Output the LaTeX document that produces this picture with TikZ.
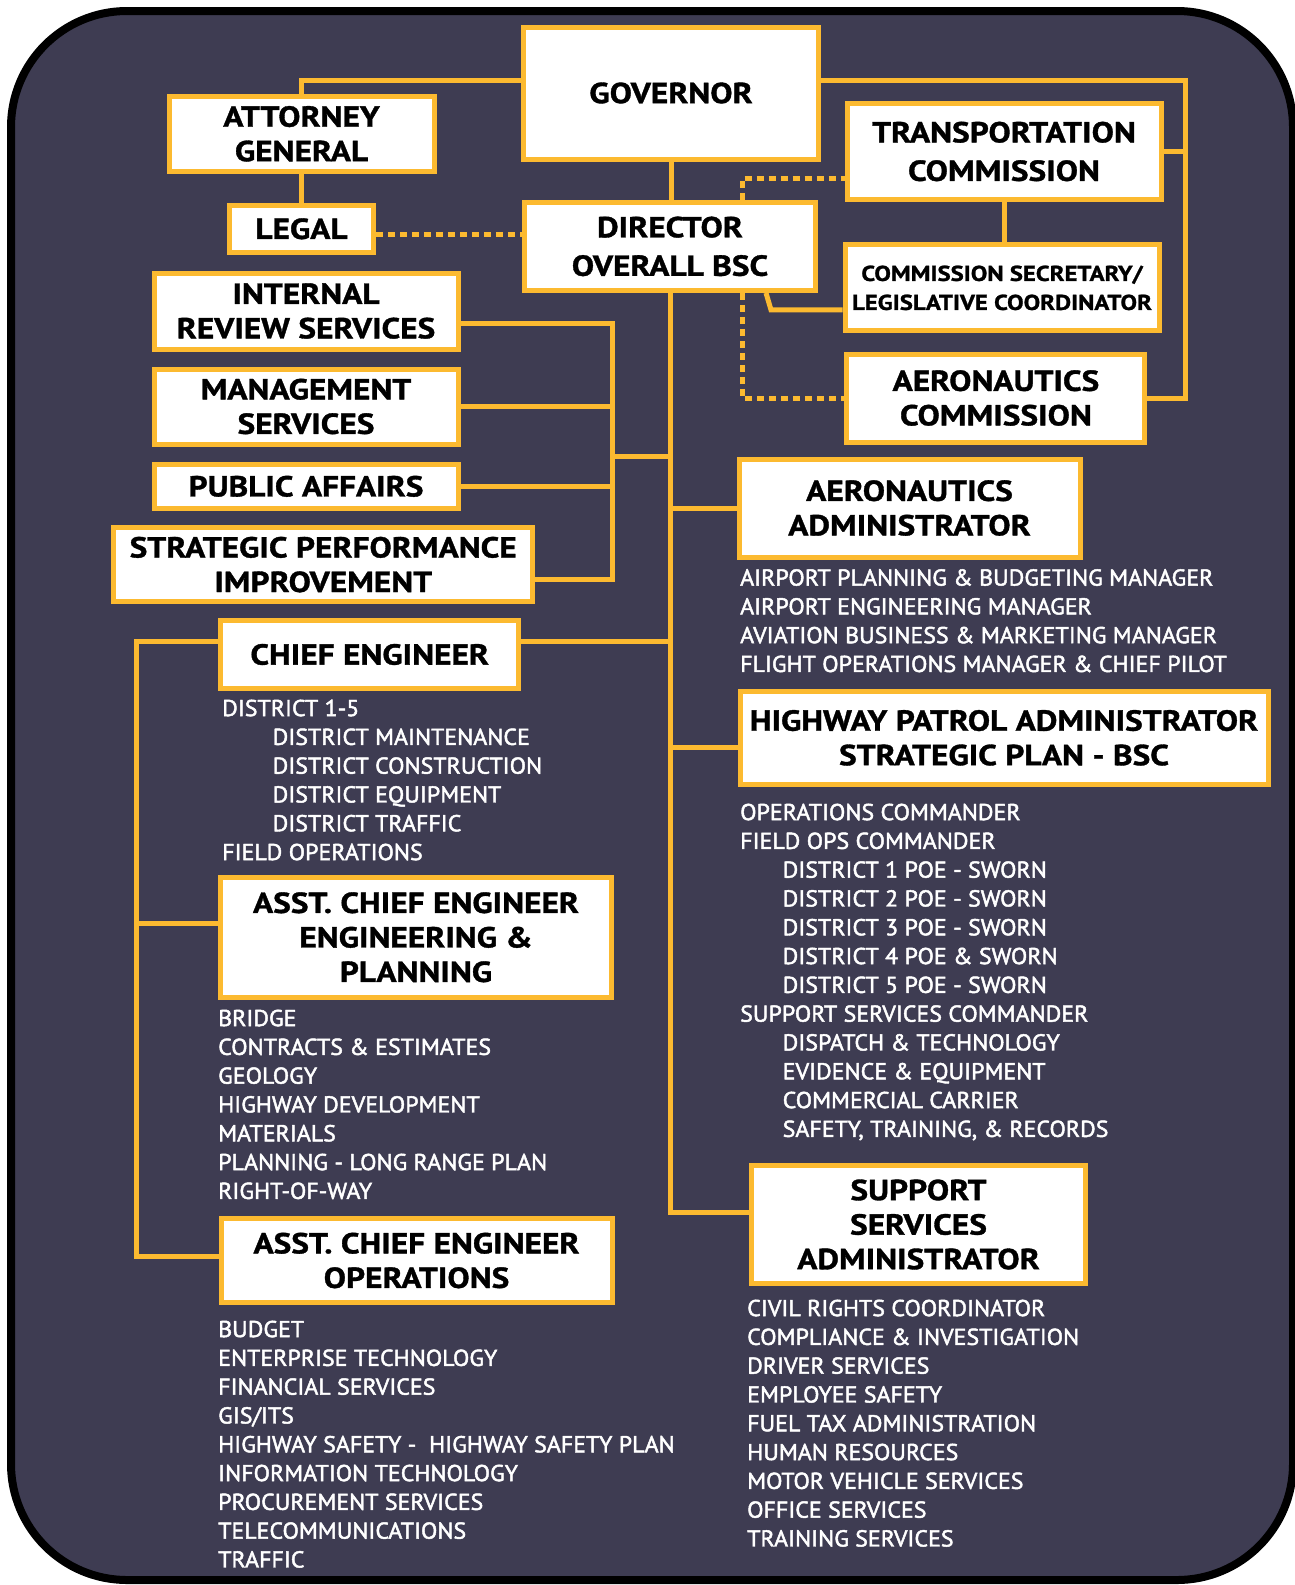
\documentclass[tikz,border=0pt]{standalone}
\usepackage{fontspec}
\setmainfont{PT Sans}
\newfontfamily\titlefam{PT Sans}[FakeStretch=1.15, FakeBold=1.2]
\newfontfamily\listfam{PT Sans}[FakeStretch=1.04, FakeBold=2]
\usetikzlibrary{positioning}
\definecolor{slate}{RGB}{62,60,82}
\definecolor{gold}{RGB}{252,186,48}
\newcommand{\boxfont}{\titlefam\bfseries\fontsize{29}{34.5}\selectfont}
\newcommand{\tallboxfont}{\titlefam\bfseries\fontsize{29}{38.5}\selectfont}
\newcommand{\smallboxfont}{\titlefam\bfseries\fontsize{21.5}{29}\selectfont}
\newcommand{\listfont}{\listfam\fontsize{23}{28.8}\selectfont}
\newcommand{\ind}{\hspace*{50.5pt}}
\newcommand{\hpind}{\hspace*{42.5pt}}
\tikzstyle{unit} = [rectangle, draw=gold, line width=5pt, fill=white, text=black, align=center, inner sep=0pt, font=\boxfont]
\tikzstyle{link} = [draw=gold, line width=5pt]
\tikzstyle{dotlink} = [draw=gold, line width=5pt, dash pattern=on 7pt off 5pt]
\tikzstyle{staff} = [anchor=north west, align=left, inner sep=0pt, text=white, font=\listfont]

\begin{document}
\begin{tikzpicture}[x=1pt, y=-1pt]

\useasboundingbox (0,0) rectangle (1295,1585);
\fill[white] (0,0) rectangle (1295,1585);
\draw[line width=8pt, fill=slate, rounded corners=116pt] (11,11) rectangle (1293,1580);

% Nodes of the chart
\node (gov) [unit, minimum width=295, minimum height=132] at (671,93) {GOVERNOR};
\node (ag) [unit, minimum width=265, minimum height=75] at (301.5,133.8) {ATTORNEY\\GENERAL};
\node (legal) [unit, minimum width=143.5, minimum height=46.5] at (301.5,228.8) {LEGAL};
\node (dir) [unit, minimum width=291, minimum height=88, font=\tallboxfont] at (670,246.4) {DIRECTOR\\OVERALL BSC};
\node (tc) [unit, minimum width=314, minimum height=96, font=\tallboxfont] at (1004,151.5) {TRANSPORTATION\\COMMISSION};
\node (cs) [unit, minimum width=314, minimum height=86, font=\smallboxfont] at (1002,287.9) {COMMISSION SECRETARY/\\LEGISLATIVE COORDINATOR};
\node (ac) [unit, minimum width=298, minimum height=88] at (995.9,398) {AERONAUTICS\\COMMISSION};
\node (irs) [unit, minimum width=304, minimum height=76] at (306,311) {INTERNAL\\REVIEW SERVICES};
\node (ms) [unit, minimum width=304, minimum height=75] at (306,406.5) {MANAGEMENT\\SERVICES};
\node (pa) [unit, minimum width=304, minimum height=44.5] at (306,486.3) {PUBLIC AFFAIRS};
\node (spi) [unit, minimum width=419, minimum height=74] at (323.2,564.6) {STRATEGIC PERFORMANCE\\IMPROVEMENT};
\node (ce) [unit, minimum width=298, minimum height=68] at (369.7,654.5) {CHIEF ENGINEER};
\node (acep) [unit, minimum width=391, minimum height=120] at (416,937.3) {ASST. CHIEF ENGINEER\\ENGINEERING \&\\PLANNING};
\node (aceo) [unit, minimum width=391, minimum height=84] at (416.5,1260.5) {ASST. CHIEF ENGINEER\\OPERATIONS};
\node (aea) [unit, minimum width=341, minimum height=98] at (909.5,508) {AERONAUTICS\\ADMINISTRATOR};
\node (hpa) [unit, minimum width=528, minimum height=93] at (1004,737.8) {HIGHWAY PATROL ADMINISTRATOR\\STRATEGIC PLAN - BSC};
\node (ssa) [unit, minimum width=334, minimum height=118] at (918.5,1224.5) {SUPPORT\\SERVICES\\ADMINISTRATOR};

% Sections under the boxes
\node (celist) [staff] at (222,699.5) {DISTRICT 1-5\\\ind DISTRICT MAINTENANCE\\\ind DISTRICT CONSTRUCTION\\\ind DISTRICT EQUIPMENT\\\ind DISTRICT TRAFFIC\\FIELD OPERATIONS};
\node (aceplist) [staff] at (218,1009.5) {BRIDGE\\CONTRACTS \& ESTIMATES\\GEOLOGY\\HIGHWAY DEVELOPMENT\\MATERIALS\\PLANNING - LONG RANGE PLAN\\RIGHT-OF-WAY};
\node (aceolist) [staff] at (218,1320.5) {BUDGET\\ENTERPRISE TECHNOLOGY\\FINANCIAL SERVICES\\GIS/ITS\\HIGHWAY SAFETY -\ \ HIGHWAY SAFETY PLAN\\INFORMATION TECHNOLOGY\\PROCUREMENT SERVICES\\TELECOMMUNICATIONS\\TRAFFIC};
\node (aealist) [staff] at (740,569) {AIRPORT PLANNING \& BUDGETING MANAGER\\AIRPORT ENGINEERING MANAGER\\AVIATION BUSINESS \& MARKETING MANAGER\\FLIGHT OPERATIONS MANAGER \& CHIEF PILOT};
\node (hpalist) [staff] at (740,803.5) {OPERATIONS COMMANDER\\FIELD OPS COMMANDER\\\hpind DISTRICT 1 POE - SWORN\\\hpind DISTRICT 2 POE - SWORN\\\hpind DISTRICT 3 POE - SWORN\\\hpind DISTRICT 4 POE \& SWORN\\\hpind DISTRICT 5 POE - SWORN\\SUPPORT SERVICES COMMANDER\\\hpind DISPATCH \& TECHNOLOGY\\\hpind EVIDENCE \& EQUIPMENT\\\hpind COMMERCIAL CARRIER\\\hpind SAFETY, TRAINING, \& RECORDS};
\node (ssalist) [staff] at (747,1299.5) {CIVIL RIGHTS COORDINATOR\\COMPLIANCE \& INVESTIGATION\\DRIVER SERVICES\\EMPLOYEE SAFETY\\FUEL TAX ADMINISTRATION\\HUMAN RESOURCES\\MOTOR VEHICLE SERVICES\\OFFICE SERVICES\\TRAINING SERVICES};

% Bus points
\coordinate (rbus) at (1185,151.5);
\coordinate (stf) at (612,456.5);
\coordinate (ceb) at (136,923);

% Lines
\draw [link] ([yshift=13]gov.west) -| (ag.north);
\draw [link] (ag.south) -- (legal.north);
\draw [dotlink] ([yshift=-6]legal.east) -- ([yshift=-6]legal.east -| dir.west);
\draw [link] (gov.south) -- (gov.south |- dir.north);
\draw [link] ([yshift=13]gov.east) -| (rbus) |- (ac.east);
\draw [link] (tc.east) -- (rbus);
\draw [link] (tc.south) -- (tc.south |- cs.north);
\draw [dotlink] ([xshift=72]dir.north) |- ([yshift=-27]tc.west);
\draw [link] ([xshift=96]dir.south) -- ++(5,17) coordinate (csbend) -- (csbend -| cs.west);
\draw [dotlink] ([xshift=72]dir.south) |- (ac.west);
\draw [link] (dir.south) |- ([yshift=12.5]ssa.west);
\draw [link] (dir.south |- aea.west) -- (aea.west);
\draw [link] (dir.south |- hpa.west) ++(0,10) -- ([yshift=-10]hpa.west);
\draw [link] ([yshift=13]ce.east) -- ([yshift=13]ce.east -| dir.south);
\draw [link] ([yshift=-12]irs.east) -| (stf) |- ([yshift=-15]spi.east);
\draw [link] (ms.east) -- (ms.east -| stf);
\draw [link] (pa.east) -- (pa.east -| stf);
\draw [link] (stf) -- (stf -| dir.south);
\draw [link] ([yshift=13]ce.west) -| (ceb) |- ([yshift=4.5]aceo.west);
\draw [link] (ceb) -- (ceb -| acep.west);

\end{tikzpicture}
\end{document}
